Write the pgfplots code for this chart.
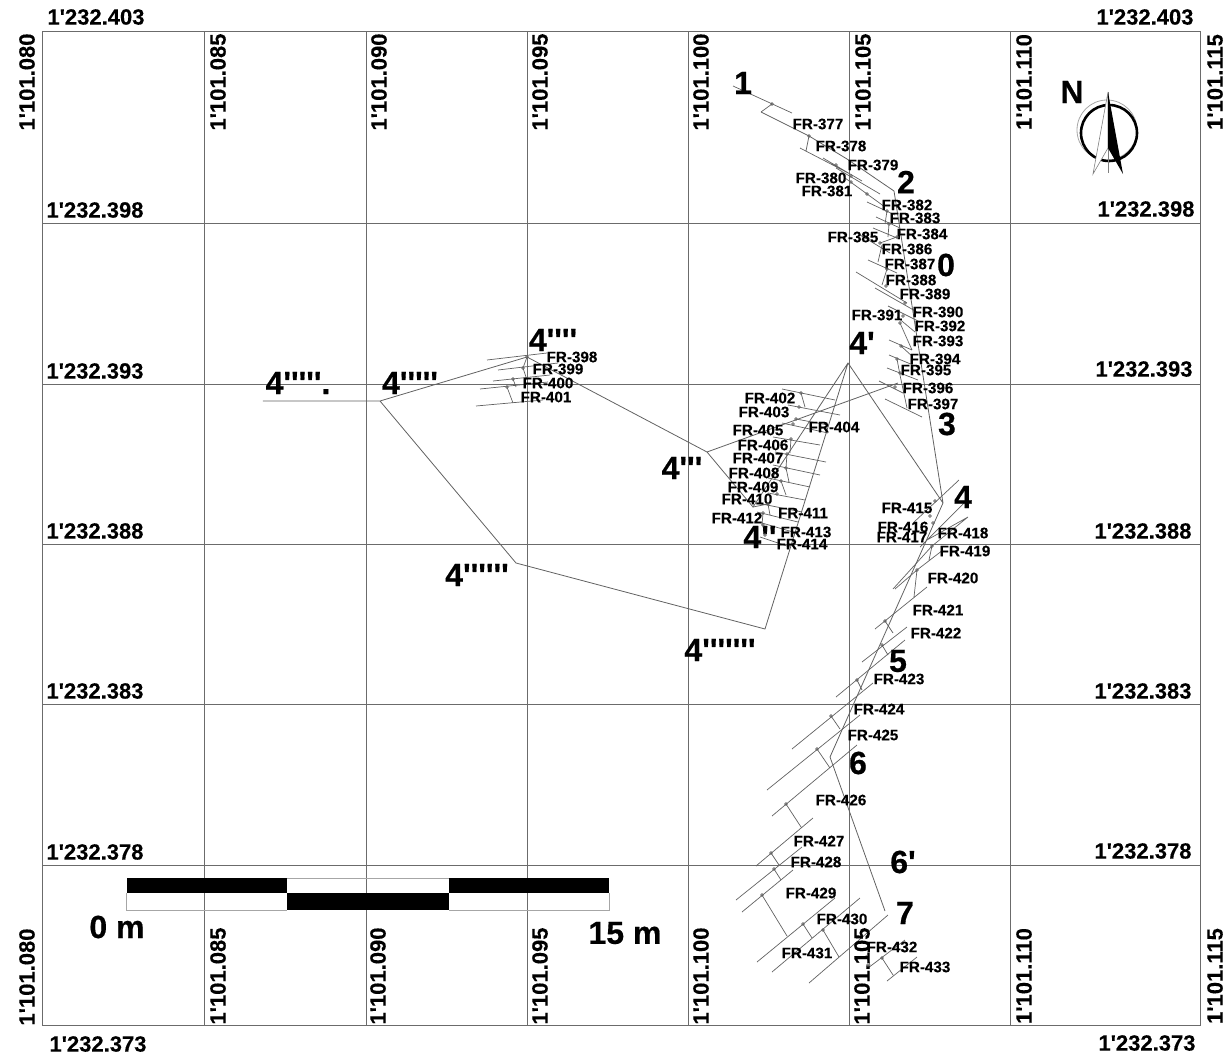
\documentclass[border=0pt]{standalone}
\usepackage{pgfplots}
\pgfplotsset{compat=1.18}
\usepackage{fontspec}
\newfontfamily\mapfont{Liberation Sans}[BoldFeatures={FakeBold=0.25}]
\newfontfamily\bigfont{Liberation Sans}[BoldFeatures={FakeBold=0.5}]
% all coordinates are image pixels, 1 px = 0.5 pt
\newcommand\fr[3]{\node[font=\mapfont\bfseries\fontsize{7.6}{8}\selectfont,inner sep=0pt] at (axis cs:#1,#2) {FR-#3};}
\newcommand\st[3]{\node[font=\bigfont\bfseries\fontsize{16}{18}\selectfont,inner sep=0pt] at (axis cs:#1,#2) {#3};}
\newcommand\nh[3]{\node[font=\mapfont\bfseries\fontsize{11}{12}\selectfont,inner sep=0pt] at (axis cs:#1,#2) {#3};}
\newcommand\ea[3]{\node[font=\mapfont\bfseries\fontsize{11}{12}\selectfont,inner sep=0pt,rotate=90] at (axis cs:#1,#2) {#3};}
\definecolor{gridc}{gray}{0.42}
\definecolor{linec}{gray}{0.38}
\begin{document}
\begin{tikzpicture}
\begin{axis}[
  scale only axis,
  width=578.5pt, height=497pt,
  xmin=43, xmax=1200, ymin=31, ymax=1025,
  y dir=reverse,
  clip=false,
  unbounded coords=jump,
  xtick={205,366,527,688,849,1010},
  ytick={223,384,544,704,865},
  xticklabels={}, yticklabels={},
  major tick length=0pt,
  grid=major,
  grid style={gridc,line width=0.5pt},
  axis line style={gridc,line width=0.5pt},
]
% invisible path fixes the page to the sheet
\path (axis cs:0,0) rectangle (axis cs:1228,1055);

% main traverse
\addplot[linec,line width=0.4pt,no marks] coordinates {
 (761,112) (809,136) (847,159) (894,191) (943,503) (830,757) (885,911)
 (nan,nan)
 (943,503) (848,363) (753,507) (707,452) (898,383)
 (nan,nan)
 (848,363) (765,629) (516,563) (380,401) (263,401)
 (nan,nan)
 (380,401) (527,357) (707,452)
};

% cross sections
\addplot[linec,line width=0.35pt,no marks] coordinates {
 (733,86) (792,113) (nan,nan) (772,104) (761,112) (nan,nan)
 (809,136) (806,151) (nan,nan) (800,148) (852,175) (nan,nan)
 (823,158) (862,181) (nan,nan) (836,168) (880,194) (nan,nan)
 (845,178) (885,207) (nan,nan) (867,202) (895,215) (nan,nan)
 (876,217) (900,228) (nan,nan) (887,211) (885,224) (nan,nan)
 (873,228) (897,238) (nan,nan) (889,224) (888,237) (nan,nan)
 (860,235) (890,253) (nan,nan) (882,245) (878,262) (nan,nan)
 (880,243) (897,237) (nan,nan)
 (868,260) (897,273) (nan,nan) (887,269) (882,285) (nan,nan)
 (856,272) (907,303) (nan,nan) (875,288) (917,312) (nan,nan)
 (888,306) (920,322) (nan,nan) (897,317) (915,332) (nan,nan)
 (900,323) (912,350) (nan,nan) (889,340) (912,350) (nan,nan)
 (889,355) (913,365) (nan,nan) (897,359) (900,375) (nan,nan)
 (887,368) (918,380) (nan,nan) (879,381) (903,393) (nan,nan)
 (885,399) (922,417) (nan,nan) (900,375) (907,408) (nan,nan)
 (901,346) (913,357) (nan,nan)
 % 398-401
 (487,360) (547,353) (nan,nan) (498,370) (558,363) (nan,nan)
 (493,381) (550,375) (nan,nan) (480,389) (548,382) (nan,nan)
 (476,406) (543,400) (nan,nan) (507,387) (513,403) (nan,nan)
 (527,357) (523,368) (nan,nan) (523,368) (527,380) (nan,nan)
 (513,379) (516,387) (nan,nan)
 % 402-414
 (782,389) (835,400) (nan,nan) (801,393) (805,407) (nan,nan)
 (788,405) (840,415) (nan,nan) (796,419) (828,425) (nan,nan)
 (782,423) (828,433) (nan,nan) (773,437) (820,445) (nan,nan)
 (775,452) (826,462) (nan,nan) (773,465) (820,475) (nan,nan)
 (768,478) (810,487) (nan,nan) (768,493) (805,500) (nan,nan)
 (757,503) (802,512) (nan,nan) (757,512) (798,522) (nan,nan)
 (762,523) (793,532) (nan,nan) (760,537) (790,547) (nan,nan)
 (791,439) (790,453) (nan,nan) (787,454) (786,468) (nan,nan)
 (786,468) (789,482) (nan,nan) (781,481) (786,495) (nan,nan)
 (768,504) (770,515) (nan,nan) (763,513) (762,525) (nan,nan)
 (763,525) (765,535) (nan,nan) (753,507) (768,504) (nan,nan)
 % 415-433
 (913,523) (959,480) (nan,nan) (920,547) (967,500) (nan,nan)
 (927,540) (968,517) (nan,nan) (893,589) (932,546) (nan,nan)
 (932,546) (968,517) (nan,nan) (895,589) (917,570) (nan,nan)
 (917,570) (943,550) (nan,nan) (932,546) (929,560) (nan,nan)
 (917,570) (914,597) (nan,nan) (875,629) (927,587) (nan,nan)
 (885,621) (893,633) (nan,nan) (862,662) (907,627) (nan,nan)
 (882,645) (888,655) (nan,nan) (836,697) (905,640) (nan,nan)
 (857,680) (862,690) (nan,nan) (792,749) (873,683) (nan,nan)
 (831,716) (840,729) (nan,nan) (767,790) (860,715) (nan,nan)
 (817,749) (830,768) (nan,nan) (772,816) (857,745) (nan,nan)
 (786,804) (801,827) (nan,nan) (756,866) (813,818) (nan,nan)
 (771,853) (779,865) (nan,nan) (736,900) (802,847) (nan,nan)
 (774,869) (781,880) (nan,nan) (742,912) (793,870) (nan,nan)
 (762,895) (787,936) (nan,nan) (757,962) (835,898) (nan,nan)
 (803,924) (812,938) (nan,nan) (772,972) (860,898) (nan,nan)
 (823,930) (839,957) (nan,nan) (809,983) (888,915) (nan,nan)
 (866,955) (870,965) (nan,nan) (868,968) (905,940) (nan,nan)
 (887,981) (917,957) (nan,nan) (882,958) (893,975)
};

% section stations
\addplot[linec,line width=0.3pt,only marks,mark=o,mark size=0.7pt] coordinates {
 (772,104) (809,136) (836,165) (851,176) (851,182) (867,194) (887,211)
 (889,224) (897,237) (880,243) (887,269) (886,286) (905,303) (903,316)
 (900,323) (901,346) (897,359) (900,373) (895,387)
 (527,357) (523,368) (513,379) (507,387)
 (801,393) (799,407) (796,419) (793,424) (791,439) (787,454) (786,468)
 (781,481) (777,494) (768,504) (763,513) (763,525) (765,535)
 (935,501) (930,516) (933,523) (932,546) (917,570) (885,621) (882,645)
 (857,680) (831,716) (817,749) (786,804) (771,853) (774,869) (762,895)
 (803,924) (823,930) (868,965) (882,958)
};

% scale bar
\addplot[draw=none,fill=black] coordinates {(127,878) (287,878) (287,893) (127,893)} --cycle;
\addplot[draw=none,fill=black] coordinates {(449,878) (609,878) (609,893) (449,893)} --cycle;
\addplot[draw=none,fill=black] coordinates {(287,893) (449,893) (449,910) (287,910)} --cycle;
\addplot[gray!70,line width=0.5pt,no marks] coordinates {(127,893) (127,910) (287,910)};
\addplot[gray!70,line width=0.5pt,no marks] coordinates {(287,878) (449,878)};
\addplot[gray!70,line width=0.5pt,no marks] coordinates {(449,910) (609,910) (609,893)};

% north arrow
\draw[gray!70,line width=0.4pt] (axis cs:1107,130) circle[radius=15pt];
\draw[black,line width=1.3pt] (axis cs:1109,133) circle[radius=14pt];
\draw[gray,line width=0.4pt] (axis cs:1108,92) -- (axis cs:1108,173);
\fill[white,draw=gray,line width=0.3pt] (axis cs:1108,92) -- (axis cs:1093,174) -- (axis cs:1108,148) -- cycle;
\fill[black] (axis cs:1108,92) -- (axis cs:1123,174) -- (axis cs:1108,148) -- cycle;
\st{1072}{92}{N}

% northing labels
\nh{96}{17}{1'232.403}  \nh{1145}{17}{1'232.403}
\nh{95}{210}{1'232.398} \nh{1146}{209}{1'232.398}
\nh{95}{371}{1'232.393} \nh{1144}{369}{1'232.393}
\nh{95}{531}{1'232.388} \nh{1143}{531}{1'232.388}
\nh{95}{691}{1'232.383} \nh{1143}{691}{1'232.383}
\nh{95}{852}{1'232.378} \nh{1143}{851}{1'232.378}
\nh{98}{1044}{1'232.373} \nh{1147}{1043}{1'232.373}

% easting labels
\ea{27}{82}{1'101.080}  \ea{218}{82}{1'101.085} \ea{379}{82}{1'101.090}
\ea{540}{82}{1'101.095} \ea{701}{82}{1'101.100} \ea{863}{82}{1'101.105}
\ea{1024}{82}{1'101.110} \ea{1215}{82}{1'101.115}
\ea{27}{977}{1'101.080} \ea{218}{976}{1'101.085} \ea{378}{976}{1'101.090}
\ea{540}{976}{1'101.095} \ea{701}{976}{1'101.100} \ea{862}{976}{1'101.105}
\ea{1024}{976}{1'101.110} \ea{1215}{976}{1'101.115}

% stations and scale text
\st{743}{83}{1} \st{906}{182}{2} \st{946}{265}{0} \st{947}{424}{3}
\st{963}{497}{4} \st{862}{343}{4'} \st{760}{537}{4''} \st{682}{468}{4'''}
\st{553}{340}{4''''} \st{410}{383}{4'''''} \st{298}{383}{4'''''.}
\st{477}{575}{4''''''} \st{720}{650}{4'''''''}
\st{898}{661}{5} \st{858}{763}{6} \st{903}{862}{6'} \st{905}{913}{7}
\st{117}{927}{0 m} \st{625}{933}{15 m}

% section names
\fr{818}{124}{377} \fr{841}{146}{378} \fr{873}{165}{379} \fr{821}{178}{380}
\fr{827}{191}{381} \fr{907}{205}{382} \fr{915}{218}{383} \fr{922}{234}{384}
\fr{853}{237}{385} \fr{907}{249}{386} \fr{910}{264}{387} \fr{911}{280}{388}
\fr{925}{294}{389} \fr{938}{312}{390} \fr{877}{315}{391} \fr{940}{326}{392}
\fr{938}{341}{393} \fr{935}{359}{394} \fr{926}{370}{395} \fr{928}{388}{396}
\fr{933}{404}{397} \fr{572}{357}{398} \fr{558}{369}{399} \fr{548}{383}{400}
\fr{546}{397}{401} \fr{770}{398}{402} \fr{764}{412}{403} \fr{834}{427}{404}
\fr{758}{430}{405} \fr{763}{445}{406} \fr{758}{458}{407} \fr{754}{473}{408}
\fr{753}{487}{409} \fr{747}{499}{410} \fr{803}{513}{411} \fr{737}{518}{412}
\fr{806}{532}{413} \fr{802}{544}{414} \fr{907}{508}{415} \fr{903}{527}{416}
\fr{902}{537}{417} \fr{963}{533}{418} \fr{965}{551}{419} \fr{953}{578}{420}
\fr{938}{610}{421} \fr{936}{633}{422} \fr{899}{679}{423} \fr{879}{709}{424}
\fr{873}{735}{425} \fr{841}{800}{426} \fr{819}{841}{427} \fr{816}{862}{428}
\fr{811}{893}{429} \fr{842}{919}{430} \fr{807}{953}{431} \fr{892}{947}{432}
\fr{925}{967}{433}
\end{axis}
\end{tikzpicture}
\end{document}
